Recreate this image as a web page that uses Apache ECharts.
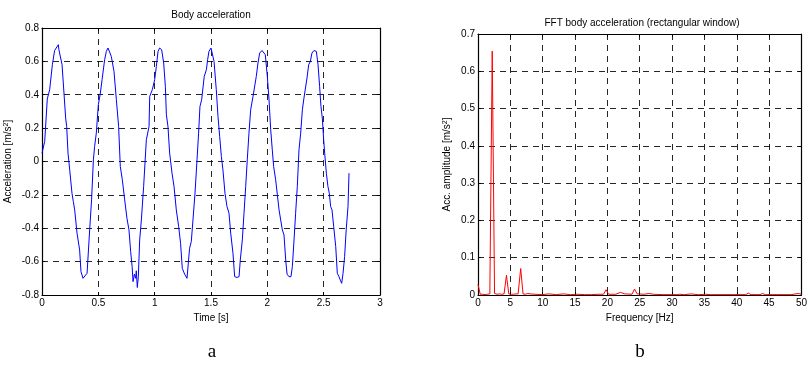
<!DOCTYPE html>
<html>
<head>
<meta charset="utf-8">
<script src="https://cdn.jsdelivr.net/npm/echarts@6/dist/echarts.min.js"></script>
<style>
  html, body { margin: 0; padding: 0; background: #fff; }
  #chart { width: 810px; height: 373px; }
</style>
</head>
<body>
<div id="chart"></div>
<script>
// body acceleration, time domain
var accTime = [
  0, 0.024, 0.047, 0.062, 0.068, 0.083, 0.092, 0.112, 0.127, 0.145, 0.15, 0.178, 0.21, 0.219, 0.231,
  0.246, 0.266, 0.278, 0.29, 0.311, 0.334, 0.346, 0.364, 0.38, 0.40, 0.423, 0.44, 0.456, 0.467, 0.482,
  0.50, 0.518, 0.533, 0.556, 0.571, 0.586, 0.60, 0.615, 0.639, 0.66, 0.68, 0.695, 0.713, 0.734, 0.754,
  0.772, 0.787, 0.80, 0.808, 0.82, 0.831, 0.837, 0.846, 0.855, 0.867, 0.882, 0.902, 0.926, 0.95, 0.956,
  0.967, 0.979, 1.0, 1.015, 1.03, 1.044, 1.062, 1.08, 1.095, 1.104, 1.118, 1.133, 1.154, 1.172, 1.192,
  1.213, 1.23, 1.245, 1.266, 1.287, 1.299, 1.31, 1.325, 1.34, 1.358, 1.376, 1.39, 1.402, 1.417, 1.43,
  1.44, 1.459, 1.47, 1.482, 1.50, 1.512, 1.527, 1.547, 1.562, 1.577, 1.592, 1.606, 1.624, 1.642, 1.66,
  1.675, 1.695, 1.71, 1.73, 1.749, 1.76, 1.778, 1.793, 1.808, 1.822, 1.837, 1.852, 1.873, 1.888, 1.902,
  1.917, 1.932, 1.953, 1.967, 1.982, 2.0, 2.015, 2.03, 2.044, 2.056, 2.074, 2.089, 2.104, 2.118, 2.133,
  2.148, 2.163, 2.175, 2.192, 2.21, 2.222, 2.237, 2.251, 2.266, 2.281, 2.296, 2.311, 2.325, 2.337, 2.352,
  2.367, 2.382, 2.396, 2.414, 2.435, 2.45, 2.464, 2.476, 2.488, 2.50, 2.509, 2.524, 2.538, 2.55, 2.562,
  2.574, 2.589, 2.607, 2.621, 2.636, 2.65, 2.66, 2.672, 2.686, 2.70, 2.716, 2.725
];
var accValue = [
  0.05, 0.12, 0.375, 0.377, 0.43, 0.44, 0.58, 0.665, 0.67, 0.70, 0.67, 0.58, 0.26, 0.21, 0.05,
  -0.05, -0.19, -0.24, -0.29, -0.43, -0.53, -0.66, -0.70, -0.69, -0.67, -0.41, -0.23, 0.01, 0.09, 0.17,
  0.34, 0.41, 0.49, 0.61, 0.66, 0.68, 0.67, 0.63, 0.54, 0.37, 0.21, -0.03, -0.11, -0.23, -0.34,
  -0.41, -0.54, -0.63, -0.72, -0.675, -0.70, -0.655, -0.755, -0.69, -0.47, -0.35, -0.15, 0.13, 0.21, 0.39,
  0.38, 0.43, 0.49, 0.57, 0.66, 0.68, 0.67, 0.59, 0.45, 0.28, 0.21, 0.05, -0.07, -0.15, -0.29,
  -0.39, -0.49, -0.64, -0.675, -0.70, -0.69, -0.52, -0.48, -0.35, -0.19, 0.01, 0.17, 0.33, 0.37, 0.38,
  0.51, 0.55, 0.61, 0.66, 0.68, 0.67, 0.60, 0.43, 0.27, 0.15, 0.03, -0.05, -0.19, -0.27, -0.31,
  -0.43, -0.55, -0.69, -0.695, -0.69, -0.59, -0.47, -0.31, -0.15, 0.01, 0.17, 0.31, 0.39, 0.39, 0.51,
  0.59, 0.65, 0.665, 0.67, 0.64, 0.51, 0.37, 0.19, 0.07, -0.03, -0.11, -0.20, -0.29, -0.29, -0.41,
  -0.44, -0.59, -0.675, -0.69, -0.69, -0.63, -0.47, -0.31, -0.15, 0.07, 0.17, 0.31, 0.38, 0.39, 0.50,
  0.58, 0.60, 0.65, 0.665, 0.66, 0.58, 0.45, 0.33, 0.26, 0.13, 0.05, -0.07, -0.15, -0.19, -0.27,
  -0.29, -0.39, -0.51, -0.67, -0.69, -0.715, -0.73, -0.67, -0.57, -0.41, -0.27, -0.07
];

// FFT amplitude spectrum (rectangular window)
var fftFreq = [
  0, 0.35, 0.75, 1.1, 1.45, 1.83, 2.2, 2.56, 2.95, 3.3, 3.65, 4.03, 4.4, 4.76, 5.15, 5.5, 5.85,
  6.2, 6.6, 6.96, 7.35, 7.7, 8.05, 8.8, 9.9, 11.0, 12.1, 13.2, 14.3, 15.4, 16.5, 17.6, 18.7, 19.4,
  19.8, 20.2, 21.3, 22.0, 22.7, 23.8, 24.2, 24.6, 25.7, 26.4, 27.1, 28.6, 30.8, 31.2, 31.9, 33.0, 33.4,
  34.1, 35.2, 35.9, 37.4, 39.6, 41.4, 41.8, 42.2, 43.6, 44.0, 44.4, 46.2, 48.4, 49.5, 50
];
var fftAmp = [
  0.028, 0.002, 0.002, 0.001, 0.002, 0.003, 0.654, 0.004, 0.002, 0.003, 0.002, 0.003, 0.053, 0.003, 0.002, 0.002, 0.003,
  0.003, 0.071, 0.003, 0.002, 0.004, 0.003, 0.002, 0.001, 0.003, 0.001, 0.003, 0.001, 0.002, 0.001, 0.001, 0.002, 0.002,
  0.014, 0.002, 0.002, 0.007, 0.003, 0.002, 0.016, 0.003, 0.002, 0.004, 0.002, 0.001, 0.001, 0.002, 0.001, 0.003, 0.002,
  0.001, 0.002, 0.001, 0.001, 0.001, 0.001, 0.005, 0.001, 0.001, 0.004, 0.001, 0.001, 0.001, 0.004, 0.002
];

var font = '"Liberation Sans", Arial, sans-serif';
var serif = '"Liberation Serif", "Times New Roman", serif';

function zip(xs, ys) {
  var out = [];
  for (var i = 0; i < xs.length; i++) {
    out.push([xs[i], ys[i]]);
  }
  return out;
}

function dashed() {
  return { show : true, lineStyle : { color : '#000', type : [6, 5], width : 1, opacity : 0.85 } };
}

function mainAxis(opts) {
  return Object.assign({
    type : 'value',
    axisLine : { show : true, onZero : false, lineStyle : { color : '#000', width : 1.2 } },
    axisTick : { show : true, inside : true, length : 3, lineStyle : { color : '#000' } },
    axisLabel : { color : '#000', fontFamily : font, fontSize : 10, margin : 3 },
    splitLine : dashed(),
    nameLocation : 'middle',
    nameTextStyle : {
      color : '#000', fontFamily : font, fontSize : 10,
      rich : { sup : { fontSize : 7, verticalAlign : 'top', color : '#000', fontFamily : font, padding : [0, 0, 4, 0] } }
    }
  }, opts);
}

function boxAxis(opts) {
  return Object.assign({
    type : 'value',
    axisLine : { show : true, onZero : false, lineStyle : { color : '#000', width : 1.2 } },
    axisTick : { show : true, inside : true, length : 3, lineStyle : { color : '#000' } },
    axisLabel : { show : false },
    splitLine : { show : false }
  }, opts);
}

function caption(text, x, y, family, size) {
  return {
    text : text, left : x, top : y, textAlign : 'center', padding : 0,
    textStyle : { fontFamily : family, fontSize : size, fontWeight : 'normal', color : '#000' }
  };
}

var chart = echarts.init(document.getElementById('chart'), null, { renderer : 'canvas' });

chart.setOption({
  animation : false,
  backgroundColor : '#fff',
  title : [
    caption('Body acceleration', 211, 10, font, 10),
    caption('FFT body acceleration (rectangular window)', 642, 18, font, 10),
    caption('a', 212, 343, serif, 19),
    caption('b', 640, 343, serif, 19)
  ],
  grid : [
    { left : 42, top : 28, width : 338, height : 267 },
    { left : 478, top : 34, width : 329, height : 261 }
  ],
  xAxis : [
    mainAxis({ gridIndex : 0, min : 0, max : 3, interval : 0.5, name : 'Time [s]', nameGap : 15 }),
    mainAxis({ gridIndex : 1, min : 0, max : 50, interval : 5, name : 'Frequency [Hz]', nameGap : 16 }),
    boxAxis({ gridIndex : 0, position : 'top', min : 0, max : 3, interval : 0.5 }),
    boxAxis({ gridIndex : 1, position : 'top', min : 0, max : 50, interval : 5 })
  ],
  yAxis : [
    mainAxis({ gridIndex : 0, min : -0.8, max : 0.8, interval : 0.2, name : 'Acceleration [m/s{sup|2}]', nameGap : 28 }),
    mainAxis({ gridIndex : 1, min : 0, max : 0.7, interval : 0.1, name : 'Acc. amplitude [m/s{sup|2}]', nameGap : 25 }),
    boxAxis({ gridIndex : 0, position : 'right', min : -0.8, max : 0.8, interval : 0.2 }),
    boxAxis({ gridIndex : 1, position : 'right', min : 0, max : 0.7, interval : 0.1 })
  ],
  series : [
    {
      type : 'line', xAxisIndex : 0, yAxisIndex : 0,
      data : zip(accTime, accValue),
      showSymbol : false, symbol : 'none',
      lineStyle : { color : '#0000ff', width : 1 }
    },
    {
      type : 'line', xAxisIndex : 1, yAxisIndex : 1,
      data : zip(fftFreq, fftAmp),
      showSymbol : false, symbol : 'none',
      lineStyle : { color : '#ff0000', width : 1 }
    }
  ]
});
</script>
</body>
</html>
